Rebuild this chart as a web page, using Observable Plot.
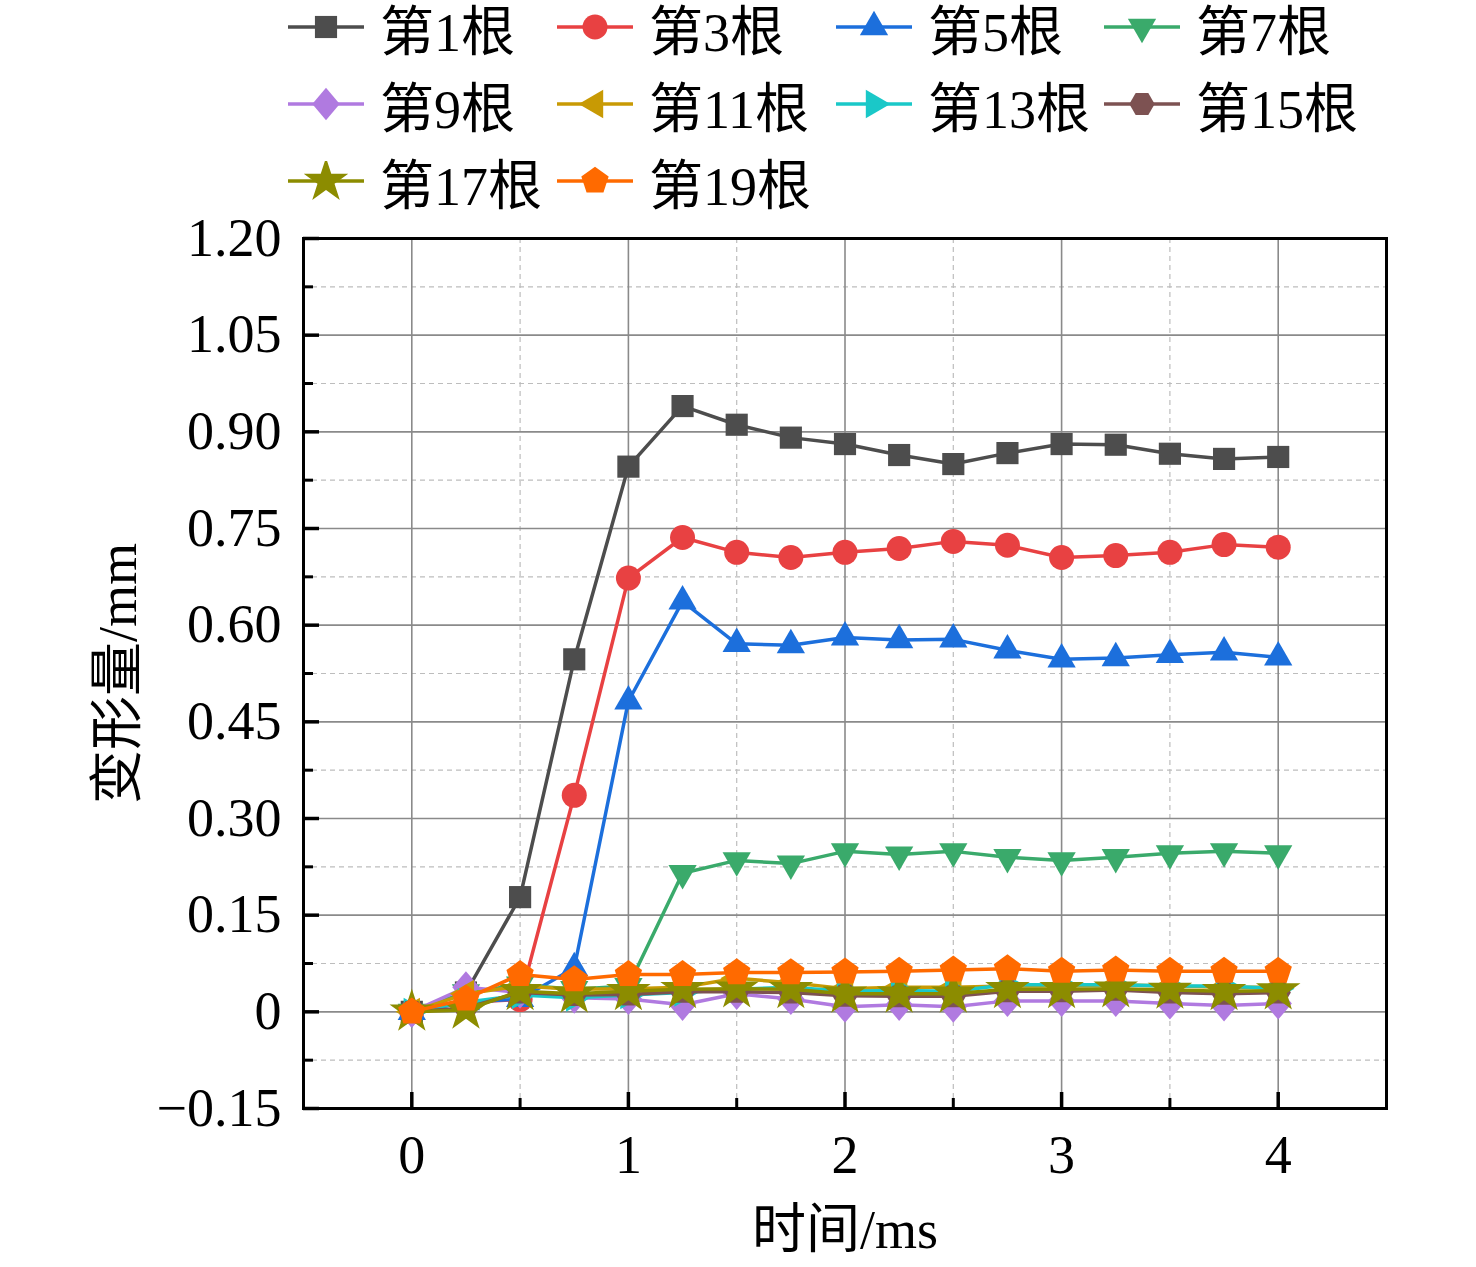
<!DOCTYPE html>
<html>
<head>
<meta charset="utf-8">
<script src="https://cdn.jsdelivr.net/npm/d3@7"></script>
<script src="https://cdn.jsdelivr.net/npm/@observablehq/plot@0.6"></script>
<style>
  html, body { margin: 0; padding: 0; background: #fff; }
  body { width: 1476px; font-family: "Liberation Serif", "Noto Sans CJK SC", serif; }
  #legend { position: relative; height: 205px; width: 1476px; }
  .item { position: absolute; display: flex; align-items: center; height: 60px; font-size: 54px; color: #000; white-space: nowrap; }
  .item svg { margin-right: 16px; }
</style>
</head>
<body>
<div id="legend"></div>
<div id="chart"></div>
<script>
// ---- data ----
const times = [0, 0.25, 0.5, 0.75, 1, 1.25, 1.5, 1.75, 2, 2.25, 2.5, 2.75, 3, 3.25, 3.5, 3.75, 4];
const names = ["第1根", "第3根", "第5根", "第7根", "第9根", "第11根", "第13根", "第15根", "第17根", "第19根"];
const s1  = [0, 0.030, 0.178, 0.547, 0.846, 0.940, 0.911, 0.891, 0.881, 0.864, 0.850, 0.867, 0.881, 0.880, 0.866, 0.858, 0.861];
const s3  = [0, 0.015, 0.019, 0.336, 0.673, 0.736, 0.713, 0.705, 0.713, 0.719, 0.730, 0.724, 0.705, 0.708, 0.713, 0.725, 0.721];
const s5  = [0, 0.015, 0.020, 0.068, 0.482, 0.637, 0.571, 0.569, 0.581, 0.577, 0.578, 0.561, 0.547, 0.549, 0.554, 0.558, 0.550];
const s7  = [0, 0.030, 0.042, 0.035, 0.040, 0.215, 0.235, 0.230, 0.249, 0.244, 0.249, 0.240, 0.235, 0.240, 0.246, 0.249, 0.246];
const s9  = [0, 0.038, 0.030, 0.022, 0.020, 0.011, 0.028, 0.020, 0.008, 0.011, 0.008, 0.017, 0.017, 0.017, 0.013, 0.010, 0.013];
const s11 = [0, 0.028, 0.040, 0.035, 0.036, 0.038, 0.052, 0.045, 0.036, 0.038, 0.038, 0.040, 0.040, 0.042, 0.040, 0.038, 0.038];
const s13 = [0, 0.015, 0.026, 0.022, 0.026, 0.030, 0.035, 0.038, 0.032, 0.033, 0.032, 0.042, 0.042, 0.042, 0.040, 0.040, 0.036];
const s15 = [0, 0.006, 0.030, 0.026, 0.027, 0.031, 0.031, 0.030, 0.025, 0.024, 0.024, 0.032, 0.032, 0.034, 0.030, 0.028, 0.030];
const s17 = [0, 0.003, 0.032, 0.028, 0.032, 0.035, 0.036, 0.035, 0.028, 0.028, 0.028, 0.035, 0.035, 0.036, 0.034, 0.032, 0.033];
const s19 = [0, 0.020, 0.058, 0.050, 0.058, 0.058, 0.061, 0.061, 0.062, 0.063, 0.065, 0.067, 0.063, 0.065, 0.063, 0.063, 0.063];
const seriesValues = [s1, s3, s5, s7, s9, s11, s13, s15, s17, s19];
const colors = ["#4d4d4d", "#e84142", "#1c6fdc", "#3aaa6b", "#b07ae0", "#c89a04", "#1ac8c8", "#7d5252", "#8c8c00", "#ff6a00"];
const xMajor = [0, 1, 2, 3, 4];
const xMinor = [0.5, 1.5, 2.5, 3.5];
const yMajor = [-0.15, 0, 0.15, 0.30, 0.45, 0.60, 0.75, 0.90, 1.05, 1.20];
const yMinor = [-0.075, 0.075, 0.225, 0.375, 0.525, 0.675, 0.825, 0.975, 1.125];

// ---- custom symbols ----
function polygon(n, rot) {
  return {
    draw(ctx, size) {
      const R = Math.sqrt(size / (n / 2 * Math.sin(2 * Math.PI / n)));
      for (let i = 0; i < n; i++) {
        const a = rot + i * 2 * Math.PI / n;
        const x = R * Math.sin(a), y = -R * Math.cos(a);
        if (i === 0) ctx.moveTo(x, y); else ctx.lineTo(x, y);
      }
      ctx.closePath();
    }
  };
}
const diamondSym = {
  draw(ctx, size) {
    const w = Math.sqrt(size / 2) * 0.95, h = Math.sqrt(size / 2) * 1.12;
    ctx.moveTo(0, -h); ctx.lineTo(w, 0); ctx.lineTo(0, h); ctx.lineTo(-w, 0); ctx.closePath();
  }
};
const symbols = [
  d3.symbolSquare, d3.symbolCircle, polygon(3, 0), polygon(3, Math.PI),
  diamondSym, polygon(3, -Math.PI / 2), polygon(3, Math.PI / 2), polygon(6, Math.PI / 2),
  d3.symbolStar, polygon(5, 0)
];
const radii = [12.5, 12.5, 10.5, 10.5, 11.5, 10.5, 10.5, 11.5, 14, 12.5];

// ---- rows ----
const rows = [];
seriesValues.forEach((vals, s) => vals.forEach((v, i) => rows.push({series: s, name: names[s], t: times[i], v})));

// ---- legend ----
const legend = document.getElementById("legend");
const colLeft = [288, 557, 836, 1104];
const rowTop = [-3, 74, 151];
names.forEach((name, s) => {
  const div = document.createElement("div");
  div.className = "item";
  div.style.left = colLeft[s % 4] + "px";
  div.style.top = rowTop[Math.floor(s / 4)] + "px";
  const size = Math.PI * radii[s] * radii[s];
  const path = d3.symbol(symbols[s], size)();
  div.innerHTML = `<svg width="76" height="40" viewBox="0 0 76 40">
    <line x1="0" x2="76" y1="20" y2="20" stroke="${colors[s]}" stroke-width="3.5"/>
    <path d="${path}" transform="translate(38,20)" fill="${colors[s]}"/>
  </svg><span>${name}</span>`;
  legend.appendChild(div);
});

// ---- chart ----
const fmtY = d => Math.abs(d) < 1e-9 ? "0" : d.toFixed(2).replace("-", "\u2212");
const seriesMarks = [];
seriesValues.forEach((vals, s) => {
  const data = rows.filter(r => r.series === s);
  seriesMarks.push(Plot.line(data, {x: "t", y: "v", stroke: colors[s], strokeWidth: 3.5}));
  seriesMarks.push(Plot.dot(data, {x: "t", y: "v", fill: colors[s], symbol: () => symbols[s], r: radii[s], stroke: "none"}));
});

const chart = Plot.plot({
  width: 1476,
  height: 1062,
  marginTop: 33,
  marginLeft: 303,
  marginRight: 90,
  marginBottom: 159,
  style: {fontFamily: '"Liberation Serif", "Noto Sans CJK SC", serif', fontSize: "54px", color: "#000", background: "transparent", overflow: "visible"},
  x: {domain: [-0.5, 4.5], axis: null, label: null},
  y: {domain: [-0.15, 1.2], axis: null, label: null},
  symbol: {type: "identity"},
  marks: [
    Plot.ruleY(yMinor, {stroke: "#bdbdbd", strokeWidth: 1.2, strokeDasharray: "5,4"}),
    Plot.ruleX(xMinor, {stroke: "#bdbdbd", strokeWidth: 1.2, strokeDasharray: "5,4"}),
    Plot.ruleY(yMajor, {stroke: "#8a8a8a", strokeWidth: 1.6}),
    Plot.ruleX(xMajor, {stroke: "#8a8a8a", strokeWidth: 1.6}),
    ...seriesMarks,
    Plot.frame({stroke: "#000", strokeWidth: 3}),
    // inward ticks
    Plot.axisY(yMajor, {anchor: "left", tickSize: -16, strokeWidth: 3.5, tickFormat: () => "", label: null}),
    Plot.axisY(yMinor, {anchor: "left", tickSize: -10, strokeWidth: 3, tickFormat: () => "", label: null}),
    Plot.axisX(xMajor, {anchor: "bottom", tickSize: -16, strokeWidth: 3.5, tickFormat: () => "", label: null}),
    Plot.axisX(xMinor, {anchor: "bottom", tickSize: -10, strokeWidth: 3, tickFormat: () => "", label: null}),
    // labels
    Plot.axisY(yMajor, {anchor: "left", tickSize: 0, tickPadding: 22, tickFormat: fmtY, label: null, fontSize: 54}),
    Plot.axisX(xMajor, {anchor: "bottom", tickSize: 0, tickPadding: 26, tickFormat: d => String(d), label: null, fontSize: 54}),
    Plot.text(["变形量/mm"], {frameAnchor: "left", rotate: -90, dx: -185, textAnchor: "middle", lineAnchor: "middle", text: d => d, fontSize: 54, fill: "#000"}),
    Plot.text(["时间/ms"], {frameAnchor: "bottom", dy: 122, textAnchor: "middle", lineAnchor: "middle", text: d => d, fontSize: 54, fill: "#000"})
  ]
});
document.getElementById("chart").appendChild(chart);
</script>
</body>
</html>
